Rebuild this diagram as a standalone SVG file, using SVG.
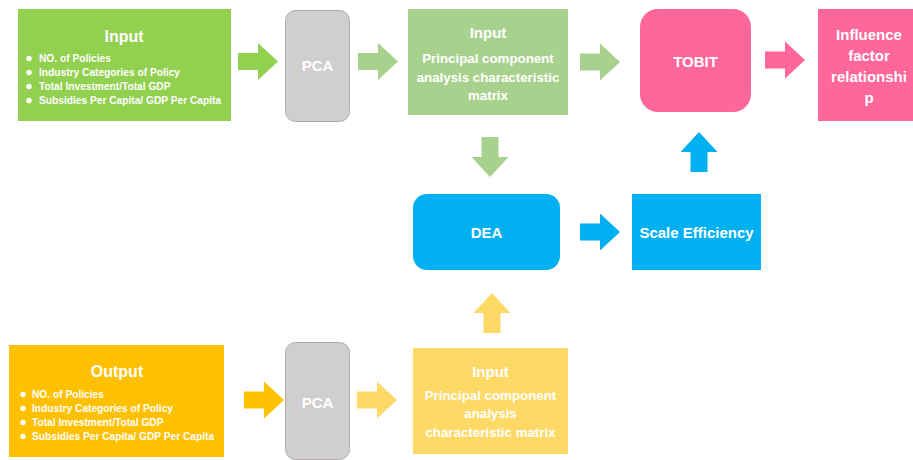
<svg xmlns="http://www.w3.org/2000/svg" xmlns:xlink="http://www.w3.org/1999/xlink" width="913" height="460" viewBox="0 0 913 460">
  <defs>
    <style>
      text { font-family: "Liberation Sans", "Open Sans", Arial, sans-serif; font-weight: bold; fill: #ffffff; }
      .title { font-size: 16px; text-anchor: middle; }
      .mid { font-size: 13.3px; text-anchor: middle; }
      .big { font-size: 15px; text-anchor: middle; }
      .item { font-size: 10.2px; }
      .pca { fill: #D0CECE; stroke: #AFABAB; stroke-width: 1; }
    </style>
    <!-- block arrow pointing right, origin at the tail centre -->
    <path id="blk" d="M0,-8.5 H20 V-18.5 L40,0 L20,18.5 V8.5 H0 Z"/>
  </defs>

  <rect width="913" height="460" fill="#ffffff"/>

  <!-- connectors -->
  <g id="connectors">
    <use xlink:href="#blk" transform="translate(238,61.5)" fill="#92D050"/>
    <use xlink:href="#blk" transform="translate(358,61.5)" fill="#A9D18E"/>
    <use xlink:href="#blk" transform="translate(580,62)" fill="#A9D18E"/>
    <use xlink:href="#blk" transform="translate(765,60)" fill="#FF6699"/>
    <use xlink:href="#blk" transform="translate(490,137) rotate(90)" fill="#A9D18E"/>
    <use xlink:href="#blk" transform="translate(580,232)" fill="#00B0F0"/>
    <use xlink:href="#blk" transform="translate(699,172) rotate(-90)" fill="#00B0F0"/>
    <use xlink:href="#blk" transform="translate(492,333) rotate(-90)" fill="#FFD966"/>
    <use xlink:href="#blk" transform="translate(244,400)" fill="#FFC000"/>
    <use xlink:href="#blk" transform="translate(357,400)" fill="#FFD966"/>
  </g>

  <!-- input indicators -->
  <g id="input-vars">
    <rect x="18" y="9" width="213" height="112" fill="#92D050"/>
    <text class="title" x="124" y="42">Input</text>
    <g fill="#ffffff">
      <circle cx="29" cy="58.5" r="2.7"/>
      <circle cx="29" cy="72.5" r="2.7"/>
      <circle cx="29" cy="86.5" r="2.7"/>
      <circle cx="29" cy="100.5" r="2.7"/>
    </g>
    <text class="item" x="39" y="62">NO. of Policies</text>
    <text class="item" x="39" y="76">Industry Categories of Policy</text>
    <text class="item" x="39" y="90">Total Investment/Total GDP</text>
    <text class="item" x="39" y="104">Subsidies Per Capita/ GDP Per Capita</text>
  </g>

  <!-- PCA on inputs -->
  <g id="pca-top">
    <rect class="pca" x="285.5" y="10.5" width="64" height="111" rx="10"/>
    <text class="big" x="317.5" y="71">PCA</text>
  </g>

  <!-- input component matrix -->
  <g id="input-matrix">
    <rect x="408" y="9" width="160" height="106" fill="#A9D18E"/>
    <text class="big" x="488" y="38">Input</text>
    <text class="mid" x="488" y="63">Principal component</text>
    <text class="mid" x="488" y="82">analysis characteristic</text>
    <text class="mid" x="488" y="100">matrix</text>
  </g>

  <!-- Tobit regression -->
  <g id="tobit">
    <rect x="640" y="9" width="111" height="103" rx="18" fill="#FF6699"/>
    <text class="big" x="695.5" y="67">TOBIT</text>
  </g>

  <!-- result -->
  <g id="influence">
    <rect x="818" y="9" width="95" height="112" fill="#FF6699"/>
    <text class="big" x="869" y="40">Influence</text>
    <text class="big" x="869" y="61">factor</text>
    <text class="big" x="869" y="82">relationshi</text>
    <text class="big" x="869" y="103">p</text>
  </g>

  <!-- DEA -->
  <g id="dea">
    <rect x="413" y="194" width="147" height="76" rx="14" fill="#00B0F0"/>
    <text class="big" x="486.5" y="238">DEA</text>
  </g>

  <!-- scale efficiency -->
  <g id="scale-efficiency">
    <rect x="632" y="194" width="129" height="76" fill="#00B0F0"/>
    <text class="big" x="696.5" y="238">Scale Efficiency</text>
  </g>

  <!-- output indicators -->
  <g id="output-vars">
    <rect x="9" y="345" width="215" height="112" fill="#FFC000"/>
    <text class="title" x="117" y="377">Output</text>
    <g fill="#ffffff">
      <circle cx="23" cy="394.5" r="2.7"/>
      <circle cx="23" cy="408.5" r="2.7"/>
      <circle cx="23" cy="422.5" r="2.7"/>
      <circle cx="23" cy="436.5" r="2.7"/>
    </g>
    <text class="item" x="32" y="398">NO. of Policies</text>
    <text class="item" x="32" y="412">Industry Categories of Policy</text>
    <text class="item" x="32" y="426">Total Investment/Total GDP</text>
    <text class="item" x="32" y="440">Subsidies Per Capita/ GDP Per Capita</text>
  </g>

  <!-- PCA on outputs -->
  <g id="pca-bottom">
    <rect class="pca" x="285.5" y="342.5" width="64" height="117" rx="10"/>
    <text class="big" x="317.5" y="408">PCA</text>
  </g>

  <!-- output component matrix -->
  <g id="output-matrix">
    <rect x="413" y="348" width="155" height="106" fill="#FFD966"/>
    <text class="big" x="490.5" y="377">Input</text>
    <text class="mid" x="490.5" y="400">Principal component</text>
    <text class="mid" x="490.5" y="418">analysis</text>
    <text class="mid" x="490.5" y="437">characteristic matrix</text>
  </g>
</svg>
